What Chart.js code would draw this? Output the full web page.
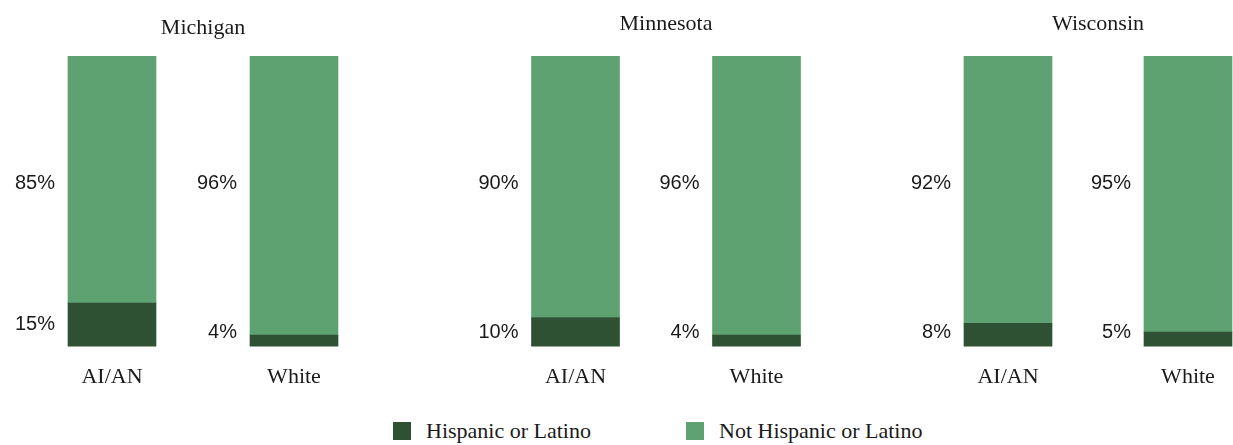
<!DOCTYPE html>
<html>
<head>
<meta charset="utf-8">
<script src="https://cdn.jsdelivr.net/npm/chart.js@4.4.1/dist/chart.umd.min.js"></script>
<style>
    html, body {
        margin: 0;
        padding: 0;
        background: #ffffff;
        overflow: hidden;
    }
    body {
        position: relative;
        width: 1233px;
        height: 445px;
    }
    .panel {
        position: absolute;
        top: 0;
        height: 417px;
    }
    .legend-item {
        position: absolute;
        top: 418px;
        height: 26px;
        display: flex;
        align-items: center;
        font-family: "Liberation Serif", "Times New Roman", serif;
        font-size: 22px;
        color: #1a1a1a;
        white-space: nowrap;
    }
    .legend-box {
        width: 18px;
        height: 18px;
        margin-right: 15px;
    }
</style>
</head>
<body>
<div id="panels"></div>
<div id="legend"></div>

<script>
// data
const states = ['Michigan', 'Minnesota', 'Wisconsin'];
const groups = ['AI/AN', 'White'];
const hispanic = [[15, 4], [10, 4], [8, 5]];
const notHispanic = [[85, 96], [90, 96], [92, 95]];
const seriesNames = ['Hispanic or Latino', 'Not Hispanic or Latino'];

const DARK = '#2e5033';
const LIGHT = '#5ea272';
const TEXT = '#1a1a1a';
const SERIF = '"Liberation Serif", "Times New Roman", serif';
const SANS = '"Liberation Sans", Arial, sans-serif';

// panel placement: left edge and width of each plot area, title offset
const areaLeft = [21, 484.5, 918];
const areaWidth = [364, 362, 360];
const titleTop = [15, 11, 11];
const LABEL_ROOM = 60;
const AREA_TOP = 56;
const PANEL_H = 417;

const pctLabels = {
    id: 'pctLabels',
    afterDatasetsDraw(chart) {
        const ctx = chart.ctx;
        ctx.save();
        ctx.font = '20px ' + SANS;
        ctx.fillStyle = TEXT;
        ctx.textAlign = 'right';
        ctx.textBaseline = 'middle';
        chart.data.datasets.forEach((ds, di) => {
            chart.getDatasetMeta(di).data.forEach((bar, j) => {
                const x = bar.x - bar.width / 2 - 13;
                let y;
                if (di === 0) {
                    y = Math.min((bar.y + bar.base) / 2, bar.base - 14);
                } else {
                    y = (bar.y + chart.chartArea.bottom) / 2 - 18;
                }
                ctx.fillText(ds.data[j] + '%', x, y);
            });
        });
        ctx.restore();
    }
};

const charts = [];
const panelsEl = document.getElementById('panels');

states.forEach((state, i) => {
    const div = document.createElement('div');
    div.className = 'panel';
    div.style.left = (areaLeft[i] - LABEL_ROOM) + 'px';
    div.style.width = (areaWidth[i] + LABEL_ROOM) + 'px';
    const canvas = document.createElement('canvas');
    canvas.width = areaWidth[i] + LABEL_ROOM;
    canvas.height = PANEL_H;
    div.appendChild(canvas);
    panelsEl.appendChild(div);

    const titleLine = 22 * 1.2;

    charts.push(new Chart(canvas, {
        type: 'bar',
        data: {
            labels: groups,
            datasets: [
                {
                    label: seriesNames[0],
                    data: hispanic[i],
                    backgroundColor: DARK,
                    barThickness: 88,
                },
                {
                    label: seriesNames[1],
                    data: notHispanic[i],
                    backgroundColor: LIGHT,
                    barThickness: 88,
                },
            ],
        },
        options: {
            responsive: false,
            animation: false,
            layout: {
                padding: { left: LABEL_ROOM, right: 0, top: 0, bottom: 10 },
            },
            plugins: {
                legend: { display: false },
                tooltip: { enabled: false },
                title: {
                    display: true,
                    text: state,
                    color: TEXT,
                    font: { family: SERIF, size: 22, weight: 'normal' },
                    padding: {
                        top: titleTop[i],
                        bottom: AREA_TOP - titleTop[i] - titleLine,
                    },
                },
            },
            scales: {
                x: {
                    stacked: true,
                    grid: { display: false, drawTicks: false },
                    border: { display: false },
                    ticks: {
                        color: TEXT,
                        font: { family: SERIF, size: 22 },
                        padding: 17,
                    },
                },
                y: {
                    stacked: true,
                    display: false,
                    min: 0,
                    max: 100,
                },
            },
        },
        plugins: [pctLabels],
    }));
});

// shared legend built from the first chart's datasets
const legendEl = document.getElementById('legend');
const legendLeft = [393, 686];
charts[0].data.datasets.forEach((ds, i) => {
    const item = document.createElement('div');
    item.className = 'legend-item';
    item.style.left = legendLeft[i] + 'px';
    const box = document.createElement('span');
    box.className = 'legend-box';
    box.style.background = ds.backgroundColor;
    const txt = document.createElement('span');
    txt.textContent = ds.label;
    item.appendChild(box);
    item.appendChild(txt);
    legendEl.appendChild(item);
});
</script>
</body>
</html>
